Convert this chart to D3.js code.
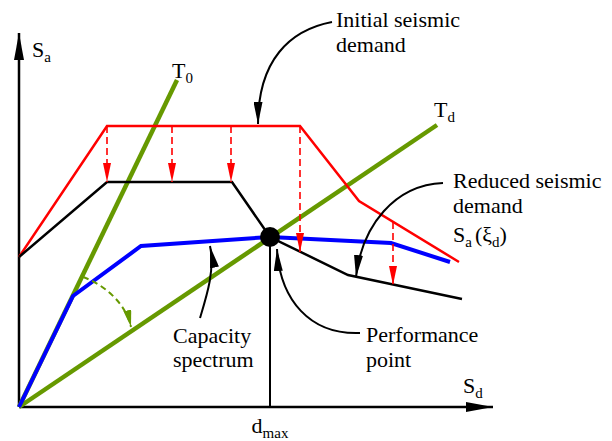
<!DOCTYPE html>
<html>
<head>
<meta charset="utf-8">
<script src="https://cdn.jsdelivr.net/npm/d3@7"></script>
<style>
  body { margin: 0; background: #fff; }
</style>
</head>
<body>
<svg id="chart" width="612" height="441"></svg>
<script>
// values, in axis units (Sd, Sa) from the origin
const initialDemand = [[0, 150], [88, 281], [281, 281], [340, 206], [440, 145]];
const reducedDemand = [[0, 150], [88, 225], [213, 225], [251, 170], [329, 132], [443, 108]];
const capacity = [[0, 0], [54, 111], [122, 161], [251, 170], [372, 164], [431, 145]];
const periodT0 = [[0, 0], [158, 327]];
const periodTd = [[0, 0], [418, 282]];
const perfPoint = [251, 170];
// red reduction arrows: [Sd, from Sa, to Sa]
const reductionArrows = [[88, 281, 225], [153, 281, 225], [212, 281, 225], [281, 281, 155], [374, 185, 122]];

const FONT = "Liberation Serif, DejaVu Serif, serif";

const x = d3.scaleLinear().domain([0, 474]).range([19, 493]);
const y = d3.scaleLinear().domain([0, 374]).range([407, 33]);

const svg = d3.select("#chart");
const defs = svg.append("defs");

function marker(id, len, wid, color) {
    defs.append("marker").attr("id", id)
        .attr("viewBox", `0 0 ${len} ${wid}`)
        .attr("refX", len).attr("refY", wid / 2)
        .attr("markerWidth", len).attr("markerHeight", wid)
        .attr("markerUnits", "userSpaceOnUse").attr("orient", "auto")
        .append("path").attr("d", `M0,0 L${len},${wid / 2} L0,${wid} Z`).attr("fill", color);
}
marker("axisHead", 27, 10, "#000");
marker("noteHead", 22, 9, "#000");
marker("redHead", 19, 8, "#ff0000");
marker("greenHead", 17, 8, "#669900");

const line = d3.line().x(d => x(d[0])).y(d => y(d[1]));

// axes
svg.append("line").attr("x1", x(0)).attr("y1", y(0)).attr("x2", x(0)).attr("y2", y(374))
    .attr("stroke", "#000").attr("stroke-width", 2.5).attr("marker-end", "url(#axisHead)");
svg.append("line").attr("x1", x(0)).attr("y1", y(0)).attr("x2", x(474)).attr("y2", y(0))
    .attr("stroke", "#000").attr("stroke-width", 2.5).attr("marker-end", "url(#axisHead)");

// d_max drop line
svg.append("line").attr("x1", x(perfPoint[0])).attr("y1", y(perfPoint[1]))
    .attr("x2", x(perfPoint[0])).attr("y2", y(0))
    .attr("stroke", "#000").attr("stroke-width", 2);

// period lines
[periodT0, periodTd].forEach(p => {
    svg.append("path").attr("d", line(p)).attr("fill", "none")
        .attr("stroke", "#669900").attr("stroke-width", 4.5);
});

svg.append("path").attr("d", line(initialDemand)).attr("fill", "none")
    .attr("stroke", "#ff0000").attr("stroke-width", 2.5);
svg.append("path").attr("d", line(reducedDemand)).attr("fill", "none")
    .attr("stroke", "#000").attr("stroke-width", 2.5);
svg.append("path").attr("d", line(capacity)).attr("fill", "none")
    .attr("stroke", "#0000ff").attr("stroke-width", 4);

// dashed reduction arrows
svg.selectAll(".red-arrow").data(reductionArrows).enter().append("line")
    .attr("class", "red-arrow")
    .attr("x1", d => x(d[0])).attr("y1", d => y(d[1]))
    .attr("x2", d => x(d[0])).attr("y2", d => y(d[2]))
    .attr("stroke", "#ff0000").attr("stroke-width", 1.6)
    .attr("stroke-dasharray", "7,4").attr("marker-end", "url(#redHead)");

// damping arc between T0 and Td
const arc = d3.path();
arc.moveTo(x(64), y(130));
arc.bezierCurveTo(x(81), y(124), x(106), y(107), x(112), y(80));
svg.append("path").attr("d", arc.toString()).attr("fill", "none")
    .attr("stroke", "#669900").attr("stroke-width", 2)
    .attr("stroke-dasharray", "6,4").attr("marker-end", "url(#greenHead)");

// performance point
svg.append("circle").attr("cx", x(perfPoint[0])).attr("cy", y(perfPoint[1])).attr("r", 10).attr("fill", "#000");

// annotation leaders: start, ctrl1, ctrl2, end (axis units)
const notes = [
    [[313, 385], [271, 377], [239, 347], [239, 283]],
    [[424, 224], [376, 222], [343, 182], [337, 130]],
    [[181, 89], [188, 112], [196, 137], [191, 161]],
    [[341, 74], [291, 72], [261, 107], [258, 158]]
];
notes.forEach(n => {
    const p = d3.path();
    p.moveTo(x(n[0][0]), y(n[0][1]));
    p.bezierCurveTo(x(n[1][0]), y(n[1][1]), x(n[2][0]), y(n[2][1]), x(n[3][0]), y(n[3][1]));
    svg.append("path").attr("d", p.toString()).attr("fill", "none")
        .attr("stroke", "#000").attr("stroke-width", 2).attr("marker-end", "url(#noteHead)");
});

function txt(px, py) {
    return svg.append("text").attr("x", px).attr("y", py)
        .style("font-family", FONT).style("font-size", "22px").attr("fill", "#000");
}

// plain text labels
const labels = [
    ["Initial seismic", 317, 380], ["demand", 317, 355],
    ["Reduced seismic", 434, 219], ["demand", 434, 194],
    ["Capacity", 154, 64], ["spectrum", 154, 40],
    ["Performance", 347, 65], ["point", 347, 40]
];
labels.forEach(l => txt(x(l[1]), y(l[2])).text(l[0]));

// symbols with subscripts
function sym(main, sub, sx, sy, anchor) {
    const t = txt(x(sx), y(sy)).attr("text-anchor", anchor || "start");
    t.append("tspan").text(main);
    t.append("tspan").style("font-size", "15px").attr("dy", 5).text(sub);
    return t;
}
sym("S", "a", 13, 350);
sym("T", "0", 153, 329);
sym("T", "d", 415, 290);
sym("S", "d", 444, 14);
sym("d", "max", 251, -26, "middle");

// S_a(xi_d)
const sx = txt(x(434), y(165));
sx.append("tspan").text("S");
sx.append("tspan").style("font-size", "15px").attr("dy", 5).text("a");
sx.append("tspan").attr("dy", -5).attr("dx", 3).text("(ξ");
sx.append("tspan").style("font-size", "15px").attr("dy", 5).text("d");
sx.append("tspan").attr("dy", -5).text(")");
</script>
</body>
</html>
